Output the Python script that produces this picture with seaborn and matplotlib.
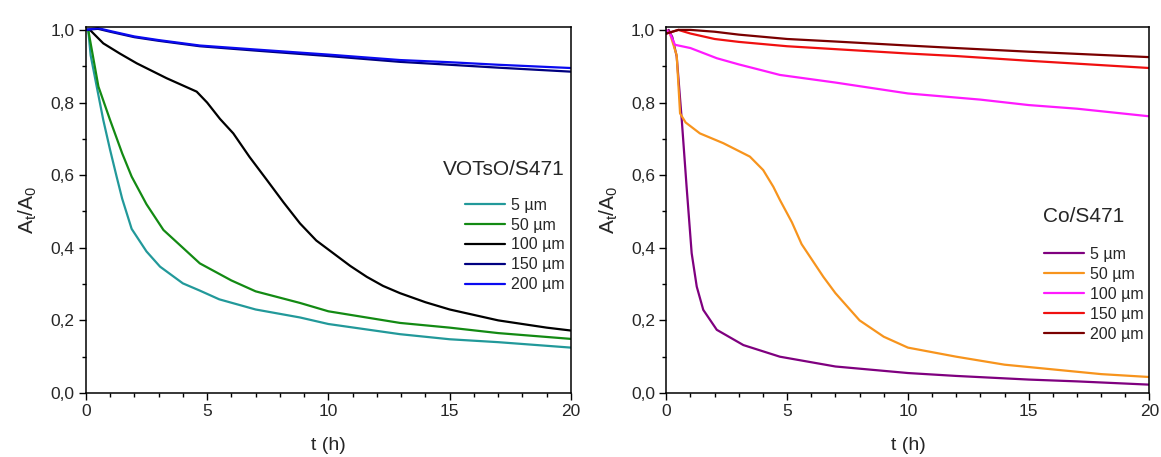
import matplotlib
matplotlib.use("Agg")
import matplotlib.pyplot as plt
import pandas as pd
import seaborn as sns
from matplotlib.ticker import MultipleLocator, FuncFormatter

# ---- data (t in h, A_t/A_0) ----
LABELS = ["5 µm", "50 µm", "100 µm", "150 µm", "200 µm"]

# VOTsO/S471
vot_t_5 = [0, 0.1, 0.2, 0.45, 0.72, 1.0, 1.27, 1.5, 1.89, 2.5, 3.06, 4, 4.7, 5.5, 7, 8.83, 10, 12.95, 15, 17, 20]
vot_v_5 = [1.0, 1.0, 0.93, 0.844, 0.752, 0.67, 0.596, 0.535, 0.452, 0.39, 0.348, 0.302, 0.282, 0.258, 0.23, 0.208, 0.19, 0.162, 0.148, 0.14, 0.125]
vot_t_50 = [0, 0.1, 0.52, 1.0, 1.5, 1.89, 2.5, 3.2, 4, 4.7, 6, 7, 8.83, 10, 12.95, 15, 17, 20]
vot_v_50 = [1.0, 1.0, 0.844, 0.752, 0.66, 0.596, 0.52, 0.449, 0.40, 0.357, 0.31, 0.28, 0.248, 0.225, 0.193, 0.18, 0.165, 0.149]
vot_t_100 = [0, 0.17, 0.72, 1.4, 2.1, 3.33, 4.57, 5.0, 5.53, 6.08, 6.75, 7.46, 8.15, 8.83, 9.5, 10.2, 10.9, 11.58, 12.25, 12.95, 14, 15, 16, 17, 18, 19, 20]
vot_v_100 = [1.0, 1.0, 0.963, 0.935, 0.908, 0.867, 0.83, 0.80, 0.755, 0.715, 0.65, 0.587, 0.525, 0.467, 0.42, 0.385, 0.35, 0.32, 0.295, 0.275, 0.25, 0.23, 0.215, 0.20, 0.19, 0.18, 0.172]
vot_t_150 = [0, 0.5, 1, 2, 3, 4.7, 7, 10, 12.95, 15, 17, 20]
vot_v_150 = [1.0, 1.003, 0.995, 0.98, 0.97, 0.955, 0.943, 0.928, 0.912, 0.904, 0.896, 0.885]
vot_t_200 = [0, 0.5, 1, 2, 3, 4.7, 7, 10, 12.95, 15, 17, 20]
vot_v_200 = [1.0, 1.005, 0.997, 0.982, 0.972, 0.957, 0.946, 0.932, 0.917, 0.911, 0.904, 0.895]

# Co/S471
co_t_5 = [0, 0.1, 0.25, 0.43, 0.64, 0.84, 1.05, 1.26, 1.53, 2.09, 3.19, 4.7, 7, 10, 12, 15, 17, 20]
co_v_5 = [0.99, 1.0, 0.98, 0.927, 0.752, 0.568, 0.385, 0.293, 0.229, 0.174, 0.132, 0.10, 0.073, 0.055, 0.047, 0.037, 0.032, 0.023]
co_t_50 = [0, 0.15, 0.43, 0.57, 0.8, 1.39, 2.36, 3.46, 4.01, 4.43, 4.7, 5.2, 5.6, 6, 6.5, 7, 8, 9, 10, 12, 14, 16, 18, 20]
co_v_50 = [1.0, 0.99, 0.93, 0.77, 0.745, 0.715, 0.688, 0.651, 0.614, 0.568, 0.532, 0.47, 0.41, 0.37, 0.32, 0.275, 0.20, 0.155, 0.125, 0.10, 0.078, 0.065, 0.052, 0.044]
co_t_100 = [0, 0.15, 0.36, 1, 2.09, 3, 4, 4.7, 7, 10, 13, 15, 17, 20]
co_v_100 = [1.0, 0.99, 0.959, 0.95, 0.922, 0.905, 0.888, 0.876, 0.855, 0.825, 0.808, 0.793, 0.783, 0.762]
co_t_150 = [0, 0.5, 1, 2, 3, 5, 7, 10, 12, 15, 17, 20]
co_v_150 = [0.99, 1.0, 0.99, 0.975, 0.967, 0.955, 0.947, 0.935, 0.928, 0.915, 0.907, 0.895]
co_t_200 = [0, 0.5, 1, 2, 3, 5, 7, 10, 12, 15, 17, 20]
co_v_200 = [0.99, 1.0, 1.0, 0.995, 0.987, 0.975, 0.968, 0.957, 0.95, 0.94, 0.934, 0.925]

VOT_COLORS = ["#22999A", "#138A13", "#000000", "#000080", "#0A0AF0"]
CO_COLORS = ["#7F007F", "#F7941D", "#FF1AFF", "#F01010", "#7A0000"]


def long_frame(pairs):
    rows = []
    for label, (ts, vs) in zip(LABELS, pairs):
        rows += [{"t": t, "v": v, "conc": label} for t, v in zip(ts, vs)]
    return pd.DataFrame(rows)


vot_df = long_frame([(vot_t_5, vot_v_5), (vot_t_50, vot_v_50), (vot_t_100, vot_v_100),
                     (vot_t_150, vot_v_150), (vot_t_200, vot_v_200)])
co_df = long_frame([(co_t_5, co_v_5), (co_t_50, co_v_50), (co_t_100, co_v_100),
                    (co_t_150, co_v_150), (co_t_200, co_v_200)])

sns.set_theme(style="ticks")
plt.rcParams["font.family"] = ["Liberation Sans", "DejaVu Sans"]
plt.rcParams["mathtext.fontset"] = "custom"
plt.rcParams["mathtext.rm"] = "Liberation Sans"
plt.rcParams["mathtext.it"] = "Liberation Sans"

W, H = 1161, 457
fig = plt.figure(figsize=(W / 100, H / 100), dpi=100)
ax_l = fig.add_axes([85.8 / W, 64 / H, 485.2 / W, 366 / H])
ax_r = fig.add_axes([666.3 / W, 64 / H, 483.2 / W, 366 / H])

comma = FuncFormatter(lambda v, _: f"{v:.1f}".replace(".", ","))

panels = [
    (ax_l, vot_df, VOT_COLORS, "VOTsO/S471", (0.736, 0.612), (0.7815, 0.534)),
    (ax_r, co_df, CO_COLORS, "Co/S471", (0.78, 0.481), (0.782, 0.399)),
]

for ax, df, colors, name, title_xy, leg_xy in panels:
    sns.lineplot(data=df, x="t", y="v", hue="conc", hue_order=LABELS,
                 palette=dict(zip(LABELS, colors)), linewidth=1.6, ax=ax,
                 estimator=None, sort=False)
    ax.set_xlim(0, 20)
    ax.set_ylim(0, 1.008)
    ax.xaxis.set_major_locator(MultipleLocator(5))
    ax.xaxis.set_minor_locator(MultipleLocator(1))
    ax.yaxis.set_major_locator(MultipleLocator(0.2))
    ax.yaxis.set_minor_locator(MultipleLocator(0.1))
    ax.yaxis.set_major_formatter(comma)
    ax.tick_params(which="major", length=5, width=1, labelsize=12.5, color="black", pad=3)
    ax.tick_params(which="minor", length=3, width=1, color="black")
    for sp in ax.spines.values():
        sp.set_linewidth(1.1)
        sp.set_color("black")
    ax.set_xlabel("t (h)", fontsize=14, labelpad=13)
    ax.set_ylabel(r"$\mathregular{A_t/A_0}$", fontsize=15, labelpad=8)
    ax.text(*title_xy, name, transform=ax.transAxes, fontsize=15, va="center", ha="left")
    ax.legend(loc="upper left", bbox_to_anchor=leg_xy, frameon=False, fontsize=11.5,
              handlelength=2.5, handletextpad=0.4, labelspacing=0.31,
              borderpad=0, borderaxespad=0)

fig.savefig("out.png", dpi=100)
